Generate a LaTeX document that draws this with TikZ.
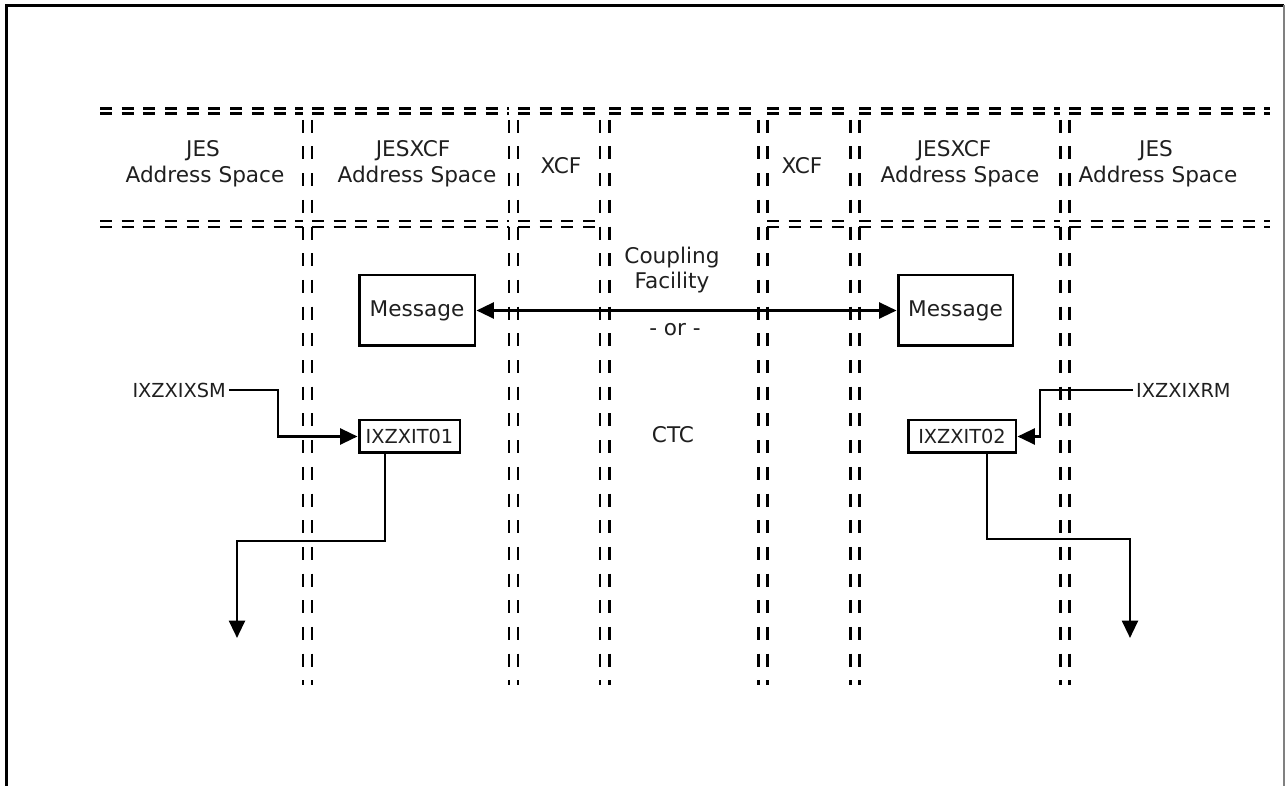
\documentclass[tikz,border=0pt]{standalone}
\usepackage{fontspec}
\setmainfont{DejaVu Sans}
\usetikzlibrary{arrows.meta}
\definecolor{ink}{gray}{0.12}
\begin{document}
\begin{tikzpicture}[x=0.02cm,y=-0.02cm,
  vdash/.style={line width=1.7pt, dash pattern=on 0.26cm off 0.274cm, dash phase=0.308cm},
  hdash/.style={line width=1.7pt, dash pattern=on 0.24cm off 0.194cm},
  conn/.style={line width=1.5pt},
  tipa/.tip={Triangle[length=0.35cm,width=0.32cm]},
  txt/.style={inner sep=0pt, text=ink, font=\fontsize{12.3}{14}\selectfont},
  lbl/.style={inner sep=0pt, outer sep=1.8pt, text=ink, font=\fontsize{11}{13}\selectfont},
  box/.style={draw, line width=1.7pt, inner sep=0pt, text=ink, font=\fontsize{12.3}{14}\selectfont},
  ibox/.style={draw, line width=1.7pt, inner sep=0pt, text=ink, font=\fontsize{11}{13}\selectfont}]
\useasboundingbox (0,0) rectangle (1285,786);
% frame
\draw[line width=1.3pt] (6.5,786) -- (6.5,5.5) -- (1284,5.5);
\draw[gray, line width=0.9pt] (1284,5.5) -- (1284,786);
% vertical dashed double lines
\foreach \x in {303,312,509,518,600,609,758,767,850,859,1060,1069}
  \draw[vdash] (\x,108.5) -- (\x,685);
% header lines, cell by cell
\foreach \a/\b in {100/303,312/509,518/600,609/758,767/850,859/1060,1069/1270} {
  \draw[hdash] (\a,108.5) -- (\b,108.5);
  \draw[hdash] (\a,114) -- (\b,114);
}
\foreach \a/\b in {100/303,312/509,518/600,767/850,859/1060,1069/1270} {
  \draw[hdash] (\a,221) -- (\b,221);
  \draw[hdash] (\a,227) -- (\b,227);
}
% header texts
\node[txt] (jesL) at (203,151) {JES};
\node[txt] (jesLa) at (205,177) {Address Space};
\node[txt] (jxL) at (413,151) {JESXCF};
\node[txt] (jxLa) at (417,177) {Address Space};
\node[txt] (xcfL) at (561,166) {XCF};
\node[txt] (xcfR) at (802,166) {XCF};
\node[txt] (jxR) at (954,151) {JESXCF};
\node[txt] (jxRa) at (960,177) {Address Space};
\node[txt] (jesR) at (1156,151) {JES};
\node[txt] (jesRa) at (1158,177) {Address Space};
% middle texts
\node[txt] (cpl) at (672,258) {Coupling};
\node[txt] (fac) at (672,283) {Facility};
\node[txt] (or) at (675,330) {- or -};
\node[txt] (ctc) at (673,435) {CTC};
% boxes
\node[box, minimum width=2.32cm, minimum height=1.42cm] (msgL) at (417,310.5) {Message};
\node[box, minimum width=2.30cm, minimum height=1.42cm] (msgR) at (955.5,310.5) {Message};
\node[ibox, minimum width=2.02cm, minimum height=0.66cm] (itL) at (409.5,436.5) {IXZXIT01};
\node[ibox, minimum width=2.16cm, minimum height=0.66cm] (itR) at (962,436.5) {IXZXIT02};
% labels
\node[lbl, anchor=east] (sm) at (229,390) {IXZXIXSM};
\node[lbl, anchor=west] (rm) at (1133,390) {IXZXIXRM};
% connectors
\draw[conn, tipa-tipa] (msgL.east) -- (msgR.west);
\coordinate (smk) at (278,436.5);
\draw[conn, -tipa] (sm.east) -| (smk) -- (itL.west);
\coordinate (rmk) at (1040,436.5);
\draw[conn, -tipa] (rm.west) -| (rmk) -- (itR.east);
\coordinate (dL1) at (385,541);
\coordinate (dL2) at (237,541);
\coordinate (endL) at (237,638);
\draw[conn, -tipa] (itL.south -| dL1) -- (dL1) -- (dL2) -- (endL);
\coordinate (dR1) at (987,539);
\coordinate (dR2) at (1130,539);
\coordinate (endR) at (1130,638);
\draw[conn, -tipa] (itR.south -| dR1) -- (dR1) -- (dR2) -- (endR);
\end{tikzpicture}
\end{document}
